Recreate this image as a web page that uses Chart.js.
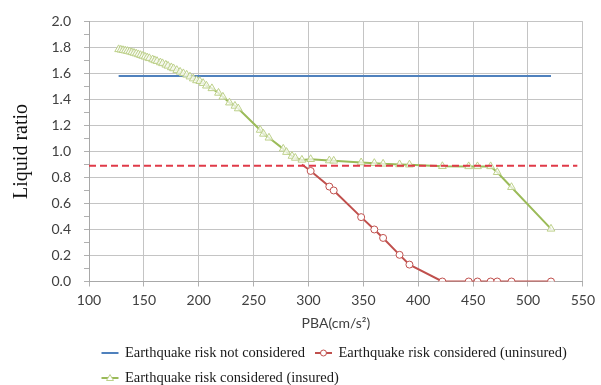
<!DOCTYPE html>
<html><head><meta charset="utf-8">
<script src="https://cdn.jsdelivr.net/npm/chart.js@4/dist/chart.umd.min.js"></script>
<style>html,body{margin:0;padding:0;background:#fff;} canvas{display:block;}</style>
</head><body>
<canvas id="c" width="601" height="385"></canvas>
<script>
// ---- data ----
const pbaInsured = [127,129,131,133,135,137,139,141,143,145,147,149,151,153,155,158,160,162,165,167,170,172,175,177,180,183,186,189,192,195,198,201,204,207,212,218,222,228,233,236,256,259,264,277,280,285,288,294,302,319,323,348,360,368,383,392,422,446,454,466,472,485,521];
const ratioInsured = [1.785,1.782,1.778,1.775,1.771,1.767,1.762,1.757,1.752,1.746,1.740,1.734,1.728,1.722,1.716,1.707,1.700,1.694,1.684,1.677,1.666,1.658,1.646,1.638,1.625,1.612,1.600,1.589,1.575,1.560,1.546,1.540,1.525,1.505,1.485,1.450,1.420,1.375,1.350,1.330,1.165,1.135,1.105,1.020,0.995,0.965,0.950,0.935,0.940,0.930,0.928,0.915,0.910,0.905,0.900,0.898,0.886,0.885,0.885,0.885,0.840,0.725,0.405];
const pbaUninsured = [294,302,319,323,348,360,368,383,392,422,446,454,466,472,485,521];
const ratioUninsured = [0.90,0.85,0.73,0.70,0.495,0.40,0.335,0.205,0.13,0,0,0,0,0,0,0];
const pbaNoRisk = [127,521];
const ratioNoRisk = [1.58,1.58];
const pbaThreshold = [100,545];
const ratioThreshold = [0.89,0.89];
const xTickValues = [100,150,200,250,300,350,400,450,500,550];
const yTickLabels = ['0.0','0.2','0.4','0.6','0.8','1.0','1.2','1.4','1.6','1.8','2.0'];
const labelNoRisk = 'Earthquake risk not considered';
const labelUninsured = 'Earthquake risk considered (uninsured)';
const labelInsured = 'Earthquake risk considered (insured)';

const pts = (xs, ys) => xs.map((x, i) => ({x: x, y: ys[i]}));

const legendOrder = [labelNoRisk, labelUninsured, labelInsured];

const legendPlugin = {
  id: 'customLegend',
  afterDraw(chart) {
    const ctx = chart.ctx;
    const items = legendOrder.map(l => chart.data.datasets.find(d => d.label === l));
    ctx.save();
    ctx.font = '14.5px "Liberation Serif", "Times New Roman", serif';
    ctx.textBaseline = 'alphabetic';
    ctx.textAlign = 'left';
    const x0 = 101.5, rowBase = [356.5, 381.5], sw = 17, gap = 6.5, itemGap = 10, maxRight = 592;
    let x = x0, row = 0;
    items.forEach(ds => {
      const tw = ctx.measureText(ds.label).width;
      const w = sw + gap + tw;
      if (x > x0 && x + w > maxRight) { row++; x = x0; }
      const by = rowBase[row], ly = by - 3.5;
      ctx.strokeStyle = ds.borderColor; ctx.lineWidth = 2; ctx.setLineDash([]);
      ctx.beginPath(); ctx.moveTo(x, ly); ctx.lineTo(x + sw, ly); ctx.stroke();
      const cx = x + sw / 2;
      if (ds.pointStyle) {
        ctx.lineWidth = 1; ctx.fillStyle = '#ffffff'; ctx.strokeStyle = ds.pointBorderColor;
        ctx.beginPath();
        if (ds.pointStyle === 'circle') { ctx.arc(cx, ly, 3, 0, Math.PI * 2); }
        else { ctx.moveTo(cx, ly - 3.5); ctx.lineTo(cx + 3.5, ly + 2.5); ctx.lineTo(cx - 3.5, ly + 2.5); ctx.closePath(); }
        ctx.fill(); ctx.stroke();
      }
      ctx.fillStyle = '#1a1a1a';
      ctx.fillText(ds.label, x + sw + gap, by);
      x += w + itemGap;
    });
    ctx.restore();
  }
};

new Chart(document.getElementById('c'), {
  type: 'line',
  data: {
    datasets: [
      { label: '', data: pts(pbaThreshold, ratioThreshold), borderColor: '#e03a48', borderWidth: 2, borderDash: [7, 4], pointRadius: 0, tension: 0 },
      { label: labelInsured, data: pts(pbaInsured, ratioInsured), borderColor: '#9bbb59', borderWidth: 2,
        pointStyle: 'triangle', pointRadius: 4.5, pointBackgroundColor: 'rgba(255,255,255,0.7)', pointBorderColor: '#bdd08a', pointBorderWidth: 1, tension: 0 },
      { label: labelUninsured, data: pts(pbaUninsured, ratioUninsured), borderColor: '#c0504d', borderWidth: 2,
        pointStyle: 'circle', pointRadius: c => c.dataIndex === 0 ? 0 : 3.5, pointBackgroundColor: '#ffffff', pointBorderColor: '#c0504d', pointBorderWidth: 1, tension: 0 },
      { label: labelNoRisk, data: pts(pbaNoRisk, ratioNoRisk), borderColor: '#4f81bd', borderWidth: 2, pointRadius: 0, tension: 0 }
    ]
  },
  options: {
    responsive: false,
    animation: false,
    layout: { padding: { top: 20, right: 13, bottom: 52, left: 0 } },
    plugins: { legend: { display: false }, tooltip: { enabled: false } },
    scales: {
      x: {
        type: 'linear', min: 100, max: 550,
        afterBuildTicks: s => { s.ticks = xTickValues.map(v => ({ value: v })); },
        afterFit: s => { s.height = 51.5; },
        grid: { color: '#c4c4c4', tickColor: '#b0b0b0', tickLength: 5 },
        border: { color: '#a8a8a8' },
        ticks: { font: { family: 'Lato', size: 14 }, color: '#404040', padding: 6, maxRotation: 0, autoSkip: false },
        title: { display: true, text: 'PBA(cm/s²)', font: { family: 'Lato', size: 14 }, color: '#404040', padding: { top: 0, bottom: 1 } }
      },
      y: {
        min: 0, max: 2,
        afterFit: s => { s.width = 89; },
        grid: {
          color: c => (c.tick && Math.round(c.tick.value * 10) % 2 === 0) ? '#c4c4c4' : 'rgba(0,0,0,0)',
          tickColor: '#b0b0b0', tickLength: 5
        },
        border: { color: '#a8a8a8' },
        ticks: {
          stepSize: 0.1, autoSkip: false, padding: 13,
          font: { family: 'Lato', size: 14 }, color: '#404040',
          callback: v => { const s = Number(v).toFixed(1); return yTickLabels.includes(s) && Math.round(v * 10) % 2 === 0 ? s : ''; }
        },
        title: { display: true, text: 'Liquid ratio', font: { family: 'Liberation Serif', size: 20 }, color: '#111', padding: { top: 10, bottom: 0 } }
      }
    }
  },
  plugins: [legendPlugin]
});
</script>
</body></html>
